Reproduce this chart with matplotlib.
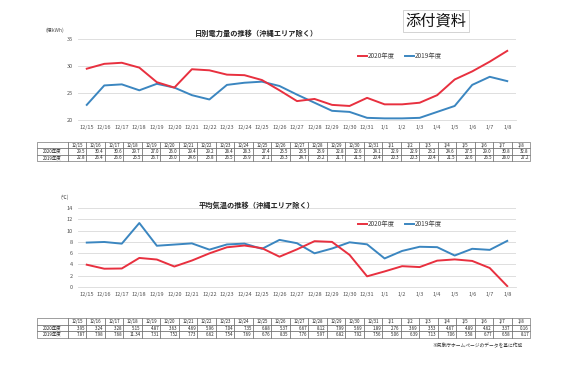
import matplotlib.pyplot as plt

plt.rcParams["font.family"] = ["Noto Sans CJK JP", "DejaVu Sans"]

W, H = 580, 378

dates = ["12/15", "12/16", "12/17", "12/18", "12/19", "12/20", "12/21", "12/22",
         "12/23", "12/24", "12/25", "12/26", "12/27", "12/28", "12/29", "12/30",
         "12/31", "1/1", "1/2", "1/3", "1/4", "1/5", "1/6", "1/7", "1/8"]

power_2020 = [29.5, 30.4, 30.6, 29.7, 27.0, 26.0, 29.4, 29.2, 28.4, 28.3, 27.4, 25.5,
              23.5, 23.9, 22.8, 22.6, 24.1, 22.9, 22.9, 23.2, 24.6, 27.5, 29.0, 30.8, 32.8]
power_2019 = [22.8, 26.4, 26.6, 25.5, 26.7, 26.0, 24.6, 23.8, 26.5, 26.9, 27.1, 26.3,
              24.7, 23.2, 21.7, 21.5, 20.4, 20.3, 20.3, 20.4, 21.5, 22.6, 26.5, 28.0, 27.2]

temp_2020 = [3.95, 3.24, 3.28, 5.15, 4.87, 3.63, 4.69, 5.96, 7.04, 7.35, 6.88, 5.37,
             6.67, 8.12, 7.99, 5.69, 1.89, 2.76, 3.69, 3.53, 4.67, 4.89, 4.62, 3.37, 0.16]
temp_2019 = [7.87, 7.98, 7.68, 11.34, 7.31, 7.52, 7.73, 6.62, 7.54, 7.69, 6.76, 8.35,
             7.76, 5.97, 6.82, 7.92, 7.56, 5.06, 6.39, 7.13, 7.06, 5.58, 6.77, 6.58, 8.17]

labels = ["2020年度", "2019年度"]
RED = "#e8303f"
BLUE = "#3b86c0"
GRID = "#d9d9d9"


def px(x0, y0, x1, y1):
    # pixel box (top-left origin) -> figure fraction rect
    return [x0 / W, 1 - y1 / H, (x1 - x0) / W, (y1 - y0) / H]


fig = plt.figure(figsize=(W / 100, H / 100), dpi=100)
fig.patch.set_facecolor("white")


def line_chart(box, s20, s19, ylim, yticks, title, unit, title_y, unit_xy, leg_y):
    ax = fig.add_axes(px(*box))
    x = range(len(dates))
    ax.plot(x, s19, color=BLUE, lw=1.4, label=labels[1])
    ax.plot(x, s20, color=RED, lw=1.4, label=labels[0])
    ax.set_xlim(-0.5, len(dates) - 0.5)
    ax.set_ylim(*ylim)
    ax.set_yticks(yticks)
    ax.set_xticks(list(x))
    ax.set_xticklabels(dates)
    ax.tick_params(axis="both", length=0, labelsize=4.0, colors="#505050", pad=3.5)
    ax.grid(axis="y", color=GRID, lw=0.6)
    ax.set_axisbelow(True)
    for s in ["top", "right", "left"]:
        ax.spines[s].set_visible(False)
    ax.spines["bottom"].set_color(GRID)
    ax.spines["bottom"].set_linewidth(0.6)
    fig.text(257 / W, 1 - title_y / H, title, ha="center", va="center",
             fontsize=5.2, fontweight="bold", color="#222222")
    fig.text(unit_xy[0] / W, 1 - unit_xy[1] / H, unit, ha="center", va="center",
             fontsize=3.6, color="#505050")
    h, l = ax.get_legend_handles_labels()
    fig.legend([h[1], h[0]], [l[1], l[0]], loc="center", ncol=2,
               bbox_to_anchor=(400 / W, 1 - leg_y / H), frameon=False,
               fontsize=4.6, handlelength=1.4, handletextpad=0.2, columnspacing=1.6,
               labelcolor="#404040")
    return ax


def data_table(box, s20, s19, fmt):
    ax = fig.add_axes(px(*box))
    ax.axis("off")
    cells = [[""] + dates,
             [labels[0]] + [fmt.format(v) for v in s20],
             [labels[1]] + [fmt.format(v) for v in s19]]
    n = len(dates)
    lw = 31
    cw = (box[2] - box[0] - lw) / n
    tot = lw + cw * n
    widths = [lw / tot] + [cw / tot] * n
    tb = ax.table(cellText=cells, colWidths=widths, bbox=[0, 0, 1, 1], cellLoc="right")
    tb.auto_set_font_size(False)
    for (r, c), cell in tb.get_celld().items():
        cell.set_linewidth(0.4)
        cell.set_edgecolor("#555555")
        cell.get_text().set_fontsize(3.2)
        cell.get_text().set_color("#222222")
        if r == 0 or c == 0:
            cell.get_text().set_ha("center")
            cell._loc = "center"
        cell.PAD = 0.06
    return ax


line_chart((78, 39, 516, 120), power_2020, power_2019, (20, 35), [20, 25, 30, 35],
           "日別電力量の推移（沖縄エリア除く）", "(億kWh)", 33, (55, 30), 56)
data_table((37, 142, 530, 161), power_2020, power_2019, "{:.1f}")

line_chart((78, 208, 516, 287), temp_2020, temp_2019, (0, 14), list(range(0, 15, 2)),
           "平均気温の推移（沖縄エリア除く）", "(℃)", 205, (65, 197), 224)
data_table((37, 318, 530, 338), temp_2020, temp_2019, "{:.2f}")

fig.text(523 / W, 1 - 346 / H, "※気象庁ホームページのデータを基に作成", ha="right",
         va="center", fontsize=3.4, color="#333333")

fig.text(436 / W, 1 - 21 / H, "添付資料", ha="center", va="center", fontsize=11,
         color="#111111",
         bbox=dict(boxstyle="square,pad=0.15", fc="white", ec="#cccccc", lw=0.6))

fig.savefig("out.png", dpi=100)
